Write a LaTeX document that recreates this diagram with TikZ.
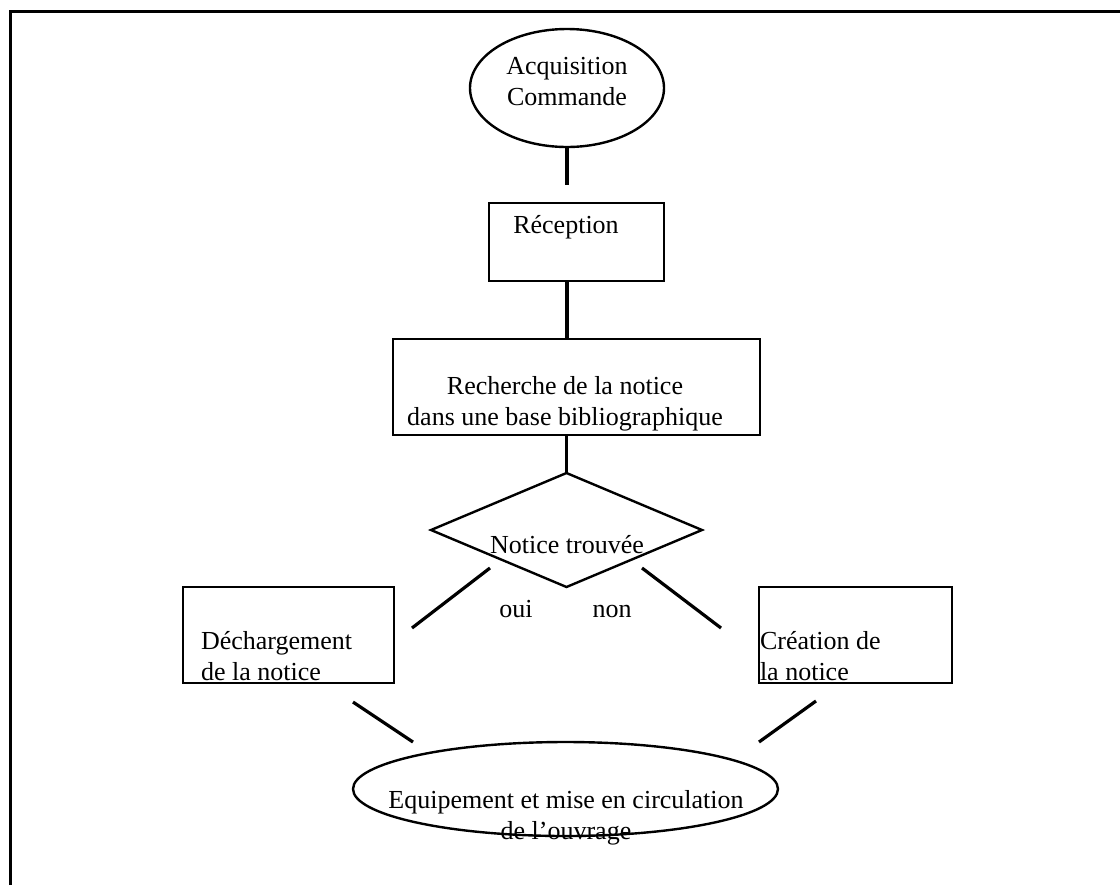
\documentclass[tikz,border=0pt]{standalone}
\usepackage{fontspec}
\setmainfont{Liberation Serif}
\usetikzlibrary{shapes.geometric}
\begin{document}
\begin{tikzpicture}[x=0.5pt,y=-0.5pt,
  outline/.style={draw, line width=1.2pt, inner sep=0pt, outer sep=0pt},
  boxshape/.style={outline, rectangle},
  ovalshape/.style={outline, ellipse},
  choiceshape/.style={outline, diamond},
  link/.style={line width=1.6pt},
  txt/.style={font=\fontsize{13}{15.5}\selectfont, inner sep=0pt, outer sep=0pt}]
\useasboundingbox (0,0) rectangle (1120,885);
% page frame
\draw[line width=1.5pt] (10,885) -- (10,11) -- (1120,11);

% shapes
\node[ovalshape, minimum width=97pt, minimum height=59pt] (acq) at (567,88) {};
\node[boxshape, minimum width=87.5pt, minimum height=39pt] (rec) at (576.5,242) {};
\node[boxshape, minimum width=183.5pt, minimum height=48pt] (search) at (576.5,387) {};
\node[choiceshape, minimum width=135.5pt, minimum height=57pt] (found) at (566.5,530) {};
\node[boxshape, minimum width=105.5pt, minimum height=48pt] (dl) at (288.5,635) {};
\node[boxshape, minimum width=96.5pt, minimum height=48pt] (create) at (855.5,635) {};
\node[ovalshape, minimum width=212.5pt, minimum height=47pt] (equip) at (565.5,789) {};

% texts (multi-line nodes are placed by the baseline of their last line)
\node[txt, align=center, anchor=base] (tacq) at (567,105) {Acquisition\\Commande};
\node[txt, anchor=base] (trec) at (566,233) {Réception};
\node[txt, align=center, anchor=base] (tsearch) at (565,425) {Recherche de la notice\\dans une base bibliographique};
\node[txt, anchor=base] (tfound) at (567,553) {Notice trouvée};
\node[txt, anchor=base] (oui) at (516,617) {oui};
\node[txt, anchor=base] (non) at (612,617) {non};
\node[txt, align=left, anchor=base west] (tdl) at (201,680) {Déchargement\\de la notice};
\node[txt, align=left, anchor=base west] (tcreate) at (760,680) {Création de\\la notice};
\node[txt, align=center, anchor=base] (tequip) at (566,839) {Equipement et mise en circulation\\de l’ouvrage};

% free ends of the connectors
\coordinate (acqend) at (567,185);
\coordinate (ouiA) at (490,568);
\coordinate (ouiB) at (412,628);
\coordinate (nonA) at (642,568);
\coordinate (nonB) at (721,628);
\coordinate (dlA) at (353,702);
\coordinate (dlB) at (413,742);
\coordinate (crA) at (816,701);
\coordinate (crB) at (759,742);

% connectors
\draw[link] (acq.south) -- (acqend);
\draw[link] (rec.south -| acq.south) -- (search.north -| acq.south);
\draw[link] (search.south -| found.north) -- (found.north);
\draw[link] (ouiA) -- (ouiB);
\draw[link] (nonA) -- (nonB);
\draw[link] (dlA) -- (dlB);
\draw[link] (crA) -- (crB);
\end{tikzpicture}
\end{document}
